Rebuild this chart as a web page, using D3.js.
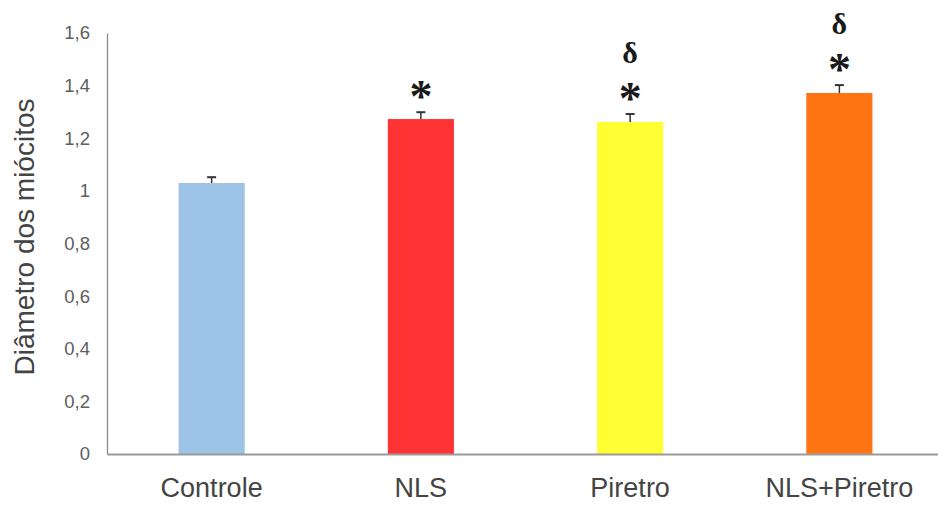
<!DOCTYPE html>
<html><head><meta charset="utf-8">
<script src="https://cdn.jsdelivr.net/npm/d3@7"></script>
<style>body{margin:0;background:#fff}svg{display:block}</style>
</head><body>
<script>
const categories = ["Controle", "NLS", "Piretro", "NLS+Piretro"];
const values = [1.03, 1.273, 1.262, 1.372];
const errors = [0.022, 0.026, 0.03, 0.03];
const marks = [[], ["*"], ["*", "δ"], ["*", "δ"]];
const colors = ["#9dc3e6", "#ff3333", "#ffff33", "#ff7412"];
const yTicks = [0, 0.2, 0.4, 0.6, 0.8, 1, 1.2, 1.4, 1.6];
const yLabel = "Diâmetro dos miócitos";

const W = 938, H = 505;
const svg = d3.select("body").append("svg").attr("width", W).attr("height", H);
const x = d3.scaleBand().domain(categories).range([107, 944]).paddingInner(0.684).paddingOuter(0.342);
const y = d3.scaleLinear().domain([0, 1.6]).range([454, 33]);
const fmt = d => String(d).replace(".", ",");
const sans = "Liberation Sans, Arial, sans-serif";
const serif = "Liberation Serif, Times New Roman, serif";

// y axis
const ya = svg.append("g").attr("transform", "translate(107,0)")
  .call(d3.axisLeft(y).tickValues(yTicks).tickFormat(fmt).tickSize(0).tickPadding(17));
ya.select(".domain").attr("stroke", "#8c8c8c").attr("stroke-width", 1.3);
ya.selectAll("text").attr("font-family", sans).attr("font-size", 18.5).attr("fill", "#5e5e5e");

// bars
svg.selectAll("rect.bar").data(categories).join("rect").attr("class", "bar")
  .attr("x", d => x(d)).attr("width", x.bandwidth())
  .attr("y", (d, i) => y(values[i])).attr("height", (d, i) => y(0) - y(values[i]))
  .attr("fill", (d, i) => colors[i]);

// error bars
const eb = svg.append("g");
categories.forEach((c, i) => {
  const cx = x(c) + x.bandwidth() / 2;
  eb.append("line").attr("x1", cx).attr("x2", cx).attr("y1", y(values[i])).attr("y2", y(values[i] + errors[i]))
    .attr("stroke", "#333").attr("stroke-width", 1.5);
  eb.append("line").attr("x1", cx - 4.5).attr("x2", cx + 4.5).attr("y1", y(values[i] + errors[i])).attr("y2", y(values[i] + errors[i]))
    .attr("stroke", "#333").attr("stroke-width", 2);
});

// x axis
const xa = svg.append("g").attr("transform", "translate(0,454)")
  .call(d3.axisBottom(x).tickSize(0).tickPadding(24));
xa.select(".domain").attr("stroke", "#9a9a9a").attr("stroke-width", 2);
xa.selectAll("text").attr("font-family", sans).attr("font-size", 27).attr("fill", "#444");

// significance marks
categories.forEach((c, i) => {
  const cx = x(c) + x.bandwidth() / 2;
  const top = y(values[i] + errors[i]);
  marks[i].forEach(m => {
    const isStar = m === "*";
    svg.append("text").attr("x", cx)
      .attr("y", isStar ? top : top - 51)
      .attr("text-anchor", "middle")
      .attr("font-family", serif)
      .attr("font-weight", "bold")
      .attr("font-size", isStar ? 46 : 30)
      .attr("fill", "#1a1a1a")
      .text(m);
  });
});

// y label
svg.append("text").attr("transform", "translate(34,237) rotate(-90)")
  .attr("text-anchor", "middle")
  .attr("font-family", sans).attr("font-size", 28).attr("fill", "#444")
  .text(yLabel);
</script>
</body></html>
